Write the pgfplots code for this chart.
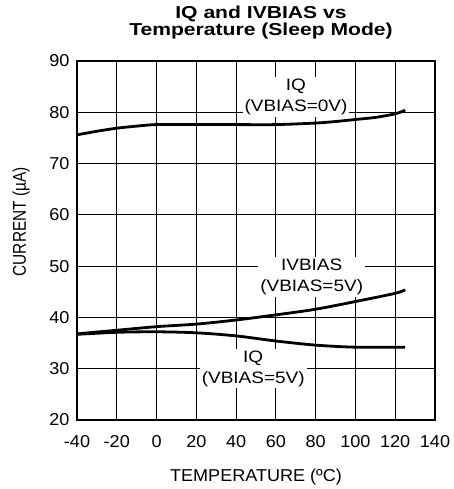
\documentclass[border=0pt]{standalone}
\usepackage{pgfplots}
\pgfplotsset{compat=1.18}
\usepackage{fontspec}
\usepackage{graphicx}
\setmainfont{Liberation Sans}
\newfontfamily\titlefont[FakeStretch=1.22]{Liberation Sans}
\newfontfamily\labfont[FakeStretch=1.15]{Liberation Sans}
\newfontfamily\tickfont[FakeStretch=1.05]{Liberation Sans}
\usetikzlibrary{calc}
\begin{document}
\begin{tikzpicture}
\begin{axis}[
  scale only axis, width=358pt, height=359pt,
  xmin=-40, xmax=140, ymin=20, ymax=90,
  xtick={-40,-20,0,20,40,60,80,100,120,140},
  xticklabels={-40,-20,0,20,40,60,80,100,120,140},
  ytick={20,30,40,50,60,70,80,90},
  yticklabels={20,30,40,50,60,70,80,90},
  grid=major,
  major grid style={black, line width=0.8pt},
  axis line style={black, line width=1.6pt},
  major tick length=0pt,
  tick label style={font=\tickfont\fontsize{17.2}{20}\selectfont},
  xticklabel style={yshift=-11.5pt},
  yticklabel style={xshift=-4pt},
  title={IQ and IVBIAS vs\\Temperature (Sleep Mode)},
  title style={font=\titlefont\bfseries\fontsize{17.3}{16.7}\selectfont, align=center, at={(0.5,1)}, anchor=south, yshift=12.3pt, xshift=5pt},
  xlabel={TEMPERATURE (ºC)},
  xlabel style={font=\tickfont\fontsize{17.2}{20}\selectfont, at={(axis description cs:0.5,0)}, anchor=base, yshift=-61.7pt},
  ylabel={\scalebox{1}[1.2]{CURRENT (µA)}},
  ylabel style={font=\fontsize{15.4}{18}\selectfont, at={(axis description cs:-0.1425,0.552)}, anchor=base, rotate=0},
  clip=false,
]
\coordinate (bl) at (rel axis cs:0,0);
\coordinate (tr) at (rel axis cs:1,1);
\addplot[black, line width=2.8pt, smooth, tension=0.5] coordinates {
 (-40,75.6)(-30,76.3)(-20,76.9)(-10,77.3)(0,77.6)(20,77.6)(40,77.6)(60,77.6)(80,77.9)(90,78.2)(100,78.6)(110,79.0)(120,79.7)(125,80.4)};
\addplot[black, line width=2.8pt, smooth, tension=0.5] coordinates {
 (-40,36.8)(-20,37.5)(0,38.2)(20,38.7)(40,39.5)(60,40.5)(80,41.6)(100,43.1)(120,44.7)(125,45.4)};
\addplot[black, line width=2.8pt, smooth, tension=0.5] coordinates {
 (-40,36.7)(-20,37.1)(0,37.2)(20,37.0)(40,36.4)(60,35.4)(80,34.6)(100,34.2)(125,34.2)};
\node[fill=white, align=center, inner sep=2pt, font=\labfont\fontsize{16.5}{21}\selectfont] at (axis cs:70.1,83.0) {IQ\\(VBIAS=0V)};
\node[fill=white, align=center, inner sep=2pt, font=\labfont\fontsize{16.5}{21}\selectfont] at (axis cs:78.0,47.8) {IVBIAS\\(VBIAS=5V)};
\node[fill=white, align=center, inner sep=2pt, font=\labfont\fontsize{16.5}{21}\selectfont] at (axis cs:48.6,30.04) {IQ\\(VBIAS=5V)};
\end{axis}
\path[use as bounding box] ($(bl)+(-77pt,-69pt)$) rectangle ($(tr)+(18pt,61pt)$);
\end{tikzpicture}
\end{document}
